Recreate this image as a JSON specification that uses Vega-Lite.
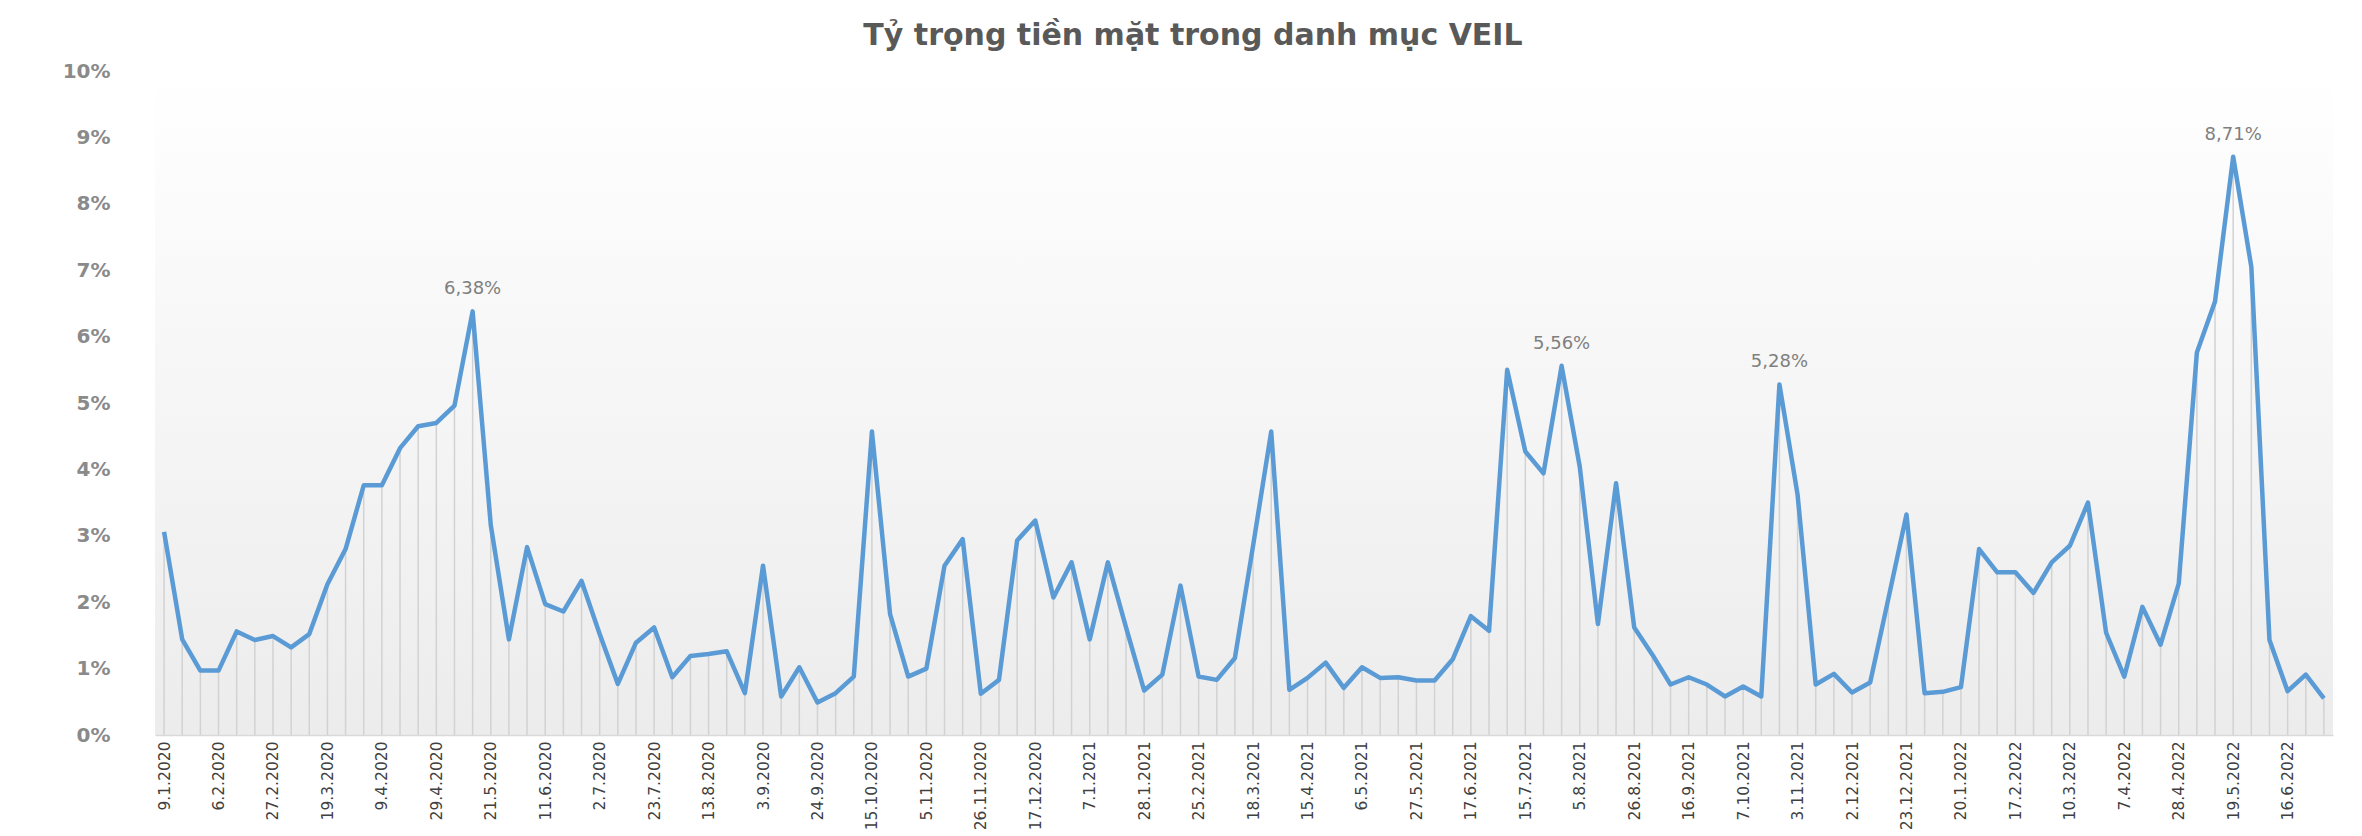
{
  "$schema": "https://vega.github.io/schema/vega-lite/v6.json",
  "width": 2178,
  "height": 664,
  "autosize": {"type": "none"},
  "padding": {"left": 155, "top": 71, "right": 29, "bottom": 101},
  "background": "#ffffff",
  "title": {
    "text": "Tỷ trọng tiền mặt trong danh mục VEIL",
    "font": "DejaVu Sans",
    "fontSize": 30,
    "fontWeight": "bold",
    "color": "#595959",
    "offset": 10,
    "dx": -51
  },
  "config": {
    "view": {
      "stroke": null,
      "fill": {
        "gradient": "linear",
        "x1": 0, "y1": 0, "x2": 0, "y2": 1,
        "stops": [
          {"offset": 0, "color": "#ffffff"},
          {"offset": 1, "color": "#ececec"}
        ]
      }
    }
  },
  "data": {
    "values": [
      {"d": "9.1.2020", "v": 3.06},
      {"d": "16.1.2020", "v": 1.44},
      {"d": "30.1.2020", "v": 0.97},
      {"d": "6.2.2020", "v": 0.97},
      {"d": "13.2.2020", "v": 1.56},
      {"d": "20.2.2020", "v": 1.43},
      {"d": "27.2.2020", "v": 1.49},
      {"d": "5.3.2020", "v": 1.32},
      {"d": "12.3.2020", "v": 1.52},
      {"d": "19.3.2020", "v": 2.27},
      {"d": "26.3.2020", "v": 2.8},
      {"d": "2.4.2020", "v": 3.76},
      {"d": "9.4.2020", "v": 3.76},
      {"d": "16.4.2020", "v": 4.32},
      {"d": "23.4.2020", "v": 4.65},
      {"d": "29.4.2020", "v": 4.7},
      {"d": "7.5.2020", "v": 4.96},
      {"d": "14.5.2020", "v": 6.38, "lbl": "6,38%"},
      {"d": "21.5.2020", "v": 3.16},
      {"d": "28.5.2020", "v": 1.44},
      {"d": "4.6.2020", "v": 2.83},
      {"d": "11.6.2020", "v": 1.97},
      {"d": "18.6.2020", "v": 1.86},
      {"d": "25.6.2020", "v": 2.32},
      {"d": "2.7.2020", "v": 1.52},
      {"d": "9.7.2020", "v": 0.77},
      {"d": "16.7.2020", "v": 1.39},
      {"d": "23.7.2020", "v": 1.62},
      {"d": "30.7.2020", "v": 0.87},
      {"d": "6.8.2020", "v": 1.19},
      {"d": "13.8.2020", "v": 1.22},
      {"d": "20.8.2020", "v": 1.26},
      {"d": "27.8.2020", "v": 0.63},
      {"d": "3.9.2020", "v": 2.55},
      {"d": "10.9.2020", "v": 0.58},
      {"d": "17.9.2020", "v": 1.02},
      {"d": "24.9.2020", "v": 0.49},
      {"d": "1.10.2020", "v": 0.63},
      {"d": "8.10.2020", "v": 0.88},
      {"d": "15.10.2020", "v": 4.57},
      {"d": "22.10.2020", "v": 1.82},
      {"d": "29.10.2020", "v": 0.88},
      {"d": "5.11.2020", "v": 1.0},
      {"d": "12.11.2020", "v": 2.55},
      {"d": "19.11.2020", "v": 2.95},
      {"d": "26.11.2020", "v": 0.62},
      {"d": "3.12.2020", "v": 0.83},
      {"d": "10.12.2020", "v": 2.93},
      {"d": "17.12.2020", "v": 3.23},
      {"d": "24.12.2020", "v": 2.07},
      {"d": "31.12.2020", "v": 2.6},
      {"d": "7.1.2021", "v": 1.44},
      {"d": "14.1.2021", "v": 2.6},
      {"d": "21.1.2021", "v": 1.62},
      {"d": "28.1.2021", "v": 0.67},
      {"d": "4.2.2021", "v": 0.91},
      {"d": "18.2.2021", "v": 2.25},
      {"d": "25.2.2021", "v": 0.88},
      {"d": "4.3.2021", "v": 0.83},
      {"d": "11.3.2021", "v": 1.16},
      {"d": "18.3.2021", "v": 2.85},
      {"d": "25.3.2021", "v": 4.57},
      {"d": "8.4.2021", "v": 0.68},
      {"d": "15.4.2021", "v": 0.86},
      {"d": "22.4.2021", "v": 1.09},
      {"d": "29.4.2021", "v": 0.71},
      {"d": "6.5.2021", "v": 1.02},
      {"d": "13.5.2021", "v": 0.86},
      {"d": "20.5.2021", "v": 0.87},
      {"d": "27.5.2021", "v": 0.82},
      {"d": "3.6.2021", "v": 0.82},
      {"d": "10.6.2021", "v": 1.14},
      {"d": "17.6.2021", "v": 1.79},
      {"d": "24.6.2021", "v": 1.57},
      {"d": "8.7.2021", "v": 5.5},
      {"d": "15.7.2021", "v": 4.27},
      {"d": "22.7.2021", "v": 3.94},
      {"d": "29.7.2021", "v": 5.56, "lbl": "5,56%"},
      {"d": "5.8.2021", "v": 4.04},
      {"d": "12.8.2021", "v": 1.67},
      {"d": "19.8.2021", "v": 3.79},
      {"d": "26.8.2021", "v": 1.62},
      {"d": "1.9.2021", "v": 1.21},
      {"d": "9.9.2021", "v": 0.76},
      {"d": "16.9.2021", "v": 0.87},
      {"d": "23.9.2021", "v": 0.76},
      {"d": "30.9.2021", "v": 0.58},
      {"d": "7.10.2021", "v": 0.73},
      {"d": "14.10.2021", "v": 0.58},
      {"d": "21.10.2021", "v": 5.28, "lbl": "5,28%"},
      {"d": "3.11.2021", "v": 3.62},
      {"d": "11.11.2021", "v": 0.76},
      {"d": "18.11.2021", "v": 0.92},
      {"d": "2.12.2021", "v": 0.64},
      {"d": "9.12.2021", "v": 0.79},
      {"d": "16.12.2021", "v": 2.05},
      {"d": "23.12.2021", "v": 3.32},
      {"d": "30.12.2021", "v": 0.63},
      {"d": "13.1.2022", "v": 0.65},
      {"d": "20.1.2022", "v": 0.72},
      {"d": "27.1.2022", "v": 2.8},
      {"d": "10.2.2022", "v": 2.45},
      {"d": "17.2.2022", "v": 2.45},
      {"d": "24.2.2022", "v": 2.14},
      {"d": "3.3.2022", "v": 2.6},
      {"d": "10.3.2022", "v": 2.85},
      {"d": "17.3.2022", "v": 3.5},
      {"d": "31.3.2022", "v": 1.54},
      {"d": "7.4.2022", "v": 0.88},
      {"d": "14.4.2022", "v": 1.93},
      {"d": "21.4.2022", "v": 1.36},
      {"d": "28.4.2022", "v": 2.28},
      {"d": "5.5.2022", "v": 5.76},
      {"d": "12.5.2022", "v": 6.53},
      {"d": "19.5.2022", "v": 8.71, "lbl": "8,71%"},
      {"d": "26.5.2022", "v": 7.05},
      {"d": "9.6.2022", "v": 1.43},
      {"d": "16.6.2022", "v": 0.66},
      {"d": "23.6.2022", "v": 0.91},
      {"d": "30.6.2022", "v": 0.55}
    ]
  },
  "encoding": {
    "x": {
      "field": "d",
      "type": "ordinal",
      "sort": null,
      "scale": {"type": "point", "padding": 0.5},
      "axis": {
        "title": null,
        "values": ["9.1.2020", "6.2.2020", "27.2.2020", "19.3.2020", "9.4.2020", "29.4.2020", "21.5.2020", "11.6.2020", "2.7.2020", "23.7.2020", "13.8.2020", "3.9.2020", "24.9.2020", "15.10.2020", "5.11.2020", "26.11.2020", "17.12.2020", "7.1.2021", "28.1.2021", "25.2.2021", "18.3.2021", "15.4.2021", "6.5.2021", "27.5.2021", "17.6.2021", "15.7.2021", "5.8.2021", "26.8.2021", "16.9.2021", "7.10.2021", "3.11.2021", "2.12.2021", "23.12.2021", "20.1.2022", "17.2.2022", "10.3.2022", "7.4.2022", "28.4.2022", "19.5.2022", "16.6.2022"],
        "labelAngle": -90,
        "labelFont": "DejaVu Sans",
        "labelFontSize": 15.5,
        "labelColor": "#404040",
        "labelPadding": 6,
        "labelOverlap": false,
        "labelBound": false,
        "ticks": false,
        "domain": true,
        "domainColor": "#d9d9d9",
        "domainWidth": 1.5
      }
    },
    "y": {
      "field": "v",
      "type": "quantitative",
      "scale": {"domain": [0, 10], "nice": false, "zero": true},
      "axis": {
        "title": null,
        "values": [0, 1, 2, 3, 4, 5, 6, 7, 8, 9, 10],
        "labelExpr": "datum.value + '%'",
        "labelFont": "DejaVu Sans",
        "labelFontSize": 20,
        "labelFontWeight": "bold",
        "labelColor": "#8a8a8a",
        "labelPadding": 45,
        "ticks": false,
        "domain": false,
        "grid": false
      }
    }
  },
  "layer": [
    {
      "mark": {"type": "rule", "color": "#d2d2d2", "strokeWidth": 1.5},
      "encoding": {"y2": {"datum": 0}}
    },
    {
      "mark": {"type": "line", "color": "#5b9bd5", "strokeWidth": 4.5, "strokeJoin": "round"},
      "encoding": {}
    },
    {
      "transform": [{"filter": "isValid(datum.lbl)"}],
      "mark": {"type": "text", "dy": -22, "font": "DejaVu Sans", "fontSize": 18, "color": "#7f7f7f"},
      "encoding": {"text": {"field": "lbl"}}
    }
  ]
}
